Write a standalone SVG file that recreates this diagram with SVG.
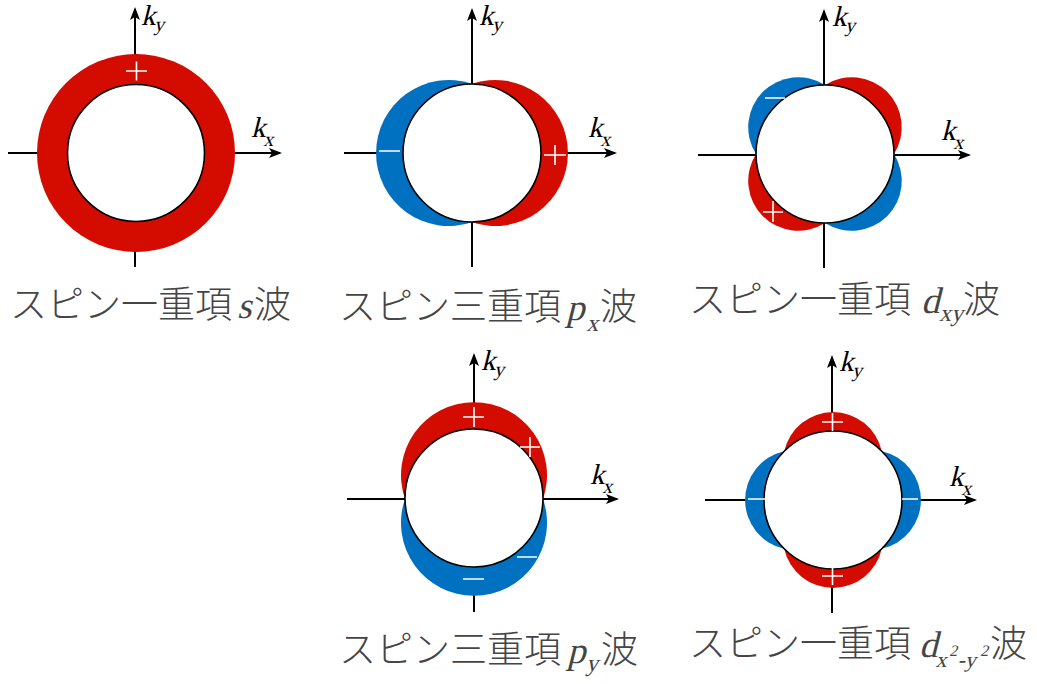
<svg xmlns="http://www.w3.org/2000/svg" width="1037" height="684" viewBox="0 0 1037 684">
<style>
.ax{stroke:#000;stroke-width:2;fill:none;marker-end:url(#arr)}
.red{fill:#D40C00}
.blue{fill:#0070C0}
.fs{fill:#fff;stroke:#000;stroke-width:1.6}
.mk{stroke:#fff;stroke-width:1.6;fill:none}
text.k{font-family:'Liberation Serif','Times New Roman',serif;font-size:29px;fill:#000}
tspan.sub{font-size:20px}
text.lab{font-family:"Noto Sans CJK JP","Noto Sans CJK SC",sans-serif;font-weight:300;font-size:37px;fill:#454545}
text.it{font-family:'Liberation Serif','Times New Roman',serif;font-size:37px;fill:#454545}
</style>
<defs>
<marker id="arr" markerUnits="userSpaceOnUse" markerWidth="14" markerHeight="12" viewBox="0 0 14 12" refX="11" refY="6" orient="auto">
<path d="M0,1 L13,6 L0,11 L3,6 Z" fill="#000"/>
</marker>
</defs>
<rect width="1037" height="684" fill="#fff"/>

<g id="connectors">
<line class="ax" x1="8" y1="153" x2="280" y2="153"/>
<line class="ax" x1="135" y1="267" x2="135" y2="9"/>
<line class="ax" x1="344" y1="153" x2="615" y2="153"/>
<line class="ax" x1="472" y1="267" x2="472" y2="10"/>
<line class="ax" x1="698" y1="155" x2="969" y2="155"/>
<line class="ax" x1="824" y1="268" x2="824" y2="11"/>
<line class="ax" x1="347" y1="499" x2="617" y2="499"/>
<line class="ax" x1="474" y1="612" x2="474" y2="355"/>
<line class="ax" x1="705" y1="500" x2="975" y2="500"/>
<line class="ax" x1="832" y1="613" x2="832" y2="357"/>
</g>

<g id="s-wave">
<circle class="red" cx="136" cy="153" r="99"/>
<circle class="fs" cx="136" cy="153" r="68.5"/>
<path class="mk" d="M126,71 H147 M136.5,61.5 V80.5"/>
<text class="k" transform="translate(141,25) skewX(-14)">k<tspan class="sub" dy="6">y</tspan></text>
<text class="k" transform="translate(251,137) skewX(-14)">k<tspan class="sub" dy="9">x</tspan></text>
<text class="lab" x="10" y="318">スピン一重項<tspan x="254">波</tspan></text>
<text class="it" transform="translate(237,318) skewX(-14)">s</text>
</g>

<g id="px-wave">
<path class="blue" d="M472,83.7 A73,73 0 1 0 472,222.3 Z"/>
<path class="red" d="M472,83.7 A73,73 0 1 1 472,222.3 Z"/>
<circle class="fs" cx="472" cy="153" r="69"/>
<path class="mk" d="M379,151 H400 M544,155 H566 M555,145 V165"/>
<text class="k" transform="translate(479,25) skewX(-14)">k<tspan class="sub" dy="6">y</tspan></text>
<text class="k" transform="translate(588,137) skewX(-14)">k<tspan class="sub" dy="9">x</tspan></text>
<text class="lab" x="339" y="320">スピン三重項<tspan x="600">波</tspan></text>
<text class="it" transform="translate(566,320) skewX(-14)">p<tspan style="font-size:24px" x="23" y="11">x</tspan></text>
</g>

<g id="dxy-wave">
<path class="blue" d="M825,85 A50,50 0 0 0 756,154 Z"/>
<path class="red" d="M825,85 A50,50 0 0 1 894,154 Z"/>
<path class="blue" d="M894,154 A50,50 0 0 1 825,223 Z"/>
<path class="red" d="M825,223 A50,50 0 0 1 756,154 Z"/>
<circle class="fs" cx="825" cy="154" r="69"/>
<path class="mk" d="M765,98 H785 M763,212 H783 M773,201 V222"/>
<text class="k" transform="translate(832,26) skewX(-14)">k<tspan class="sub" dy="6">y</tspan></text>
<text class="k" transform="translate(941,140) skewX(-14)">k<tspan class="sub" dy="9">x</tspan></text>
<text class="lab" x="689" y="313">スピン一重項<tspan x="963">波</tspan></text>
<text class="it" transform="translate(921,313) skewX(-14)">d<tspan style="font-size:24px" x="20" y="8">xy</tspan></text>
</g>

<g id="py-wave">
<path class="red" d="M405,499 A73,73 0 1 1 543,499 Z"/>
<path class="blue" d="M405,499 A73,73 0 1 0 543,499 Z"/>
<circle class="fs" cx="474" cy="498" r="69"/>
<path class="mk" d="M463,417 H484 M474,407 V427 M520,447 H540 M530,437 V457 M463,579 H484 M517,557 H537"/>
<text class="k" transform="translate(481,370) skewX(-14)">k<tspan class="sub" dy="6">y</tspan></text>
<text class="k" transform="translate(590,484) skewX(-14)">k<tspan class="sub" dy="9">x</tspan></text>
<text class="lab" x="339" y="663">スピン三重項<tspan x="601">波</tspan></text>
<text class="it" transform="translate(567,663) skewX(-14)">p<tspan style="font-size:24px" x="21" y="8">y</tspan></text>
</g>

<g id="dx2y2-wave">
<path class="red" d="M784.2,451.2 A50,50 0 0 1 881.8,451.2 Z"/>
<path class="blue" d="M881.8,451.2 A50,50 0 0 1 881.8,548.8 Z"/>
<path class="red" d="M881.8,548.8 A50,50 0 0 1 784.2,548.8 Z"/>
<path class="blue" d="M784.2,548.8 A50,50 0 0 1 784.2,451.2 Z"/>
<circle class="fs" cx="833" cy="500" r="69"/>
<path class="mk" d="M822,422 H843 M832.5,413 V431 M822,576 H843 M832.5,568 V585 M748,499 H765 M902,499 H918"/>
<text class="k" transform="translate(839,371) skewX(-14)">k<tspan class="sub" dy="6">y</tspan></text>
<text class="k" transform="translate(949,486) skewX(-14)">k<tspan class="sub" dy="9">x</tspan></text>
<text class="lab" x="689" y="657">スピン一重項<tspan x="990">波</tspan></text>
<text class="it" transform="translate(919,657) skewX(-14)">d<tspan style="font-size:22px" x="19" y="10">x</tspan><tspan style="font-size:16px" x="30" y="-1">2</tspan><tspan style="font-size:22px" x="41" y="10">-y</tspan><tspan style="font-size:16px" x="61" y="-1">2</tspan></text>
</g>
</svg>
